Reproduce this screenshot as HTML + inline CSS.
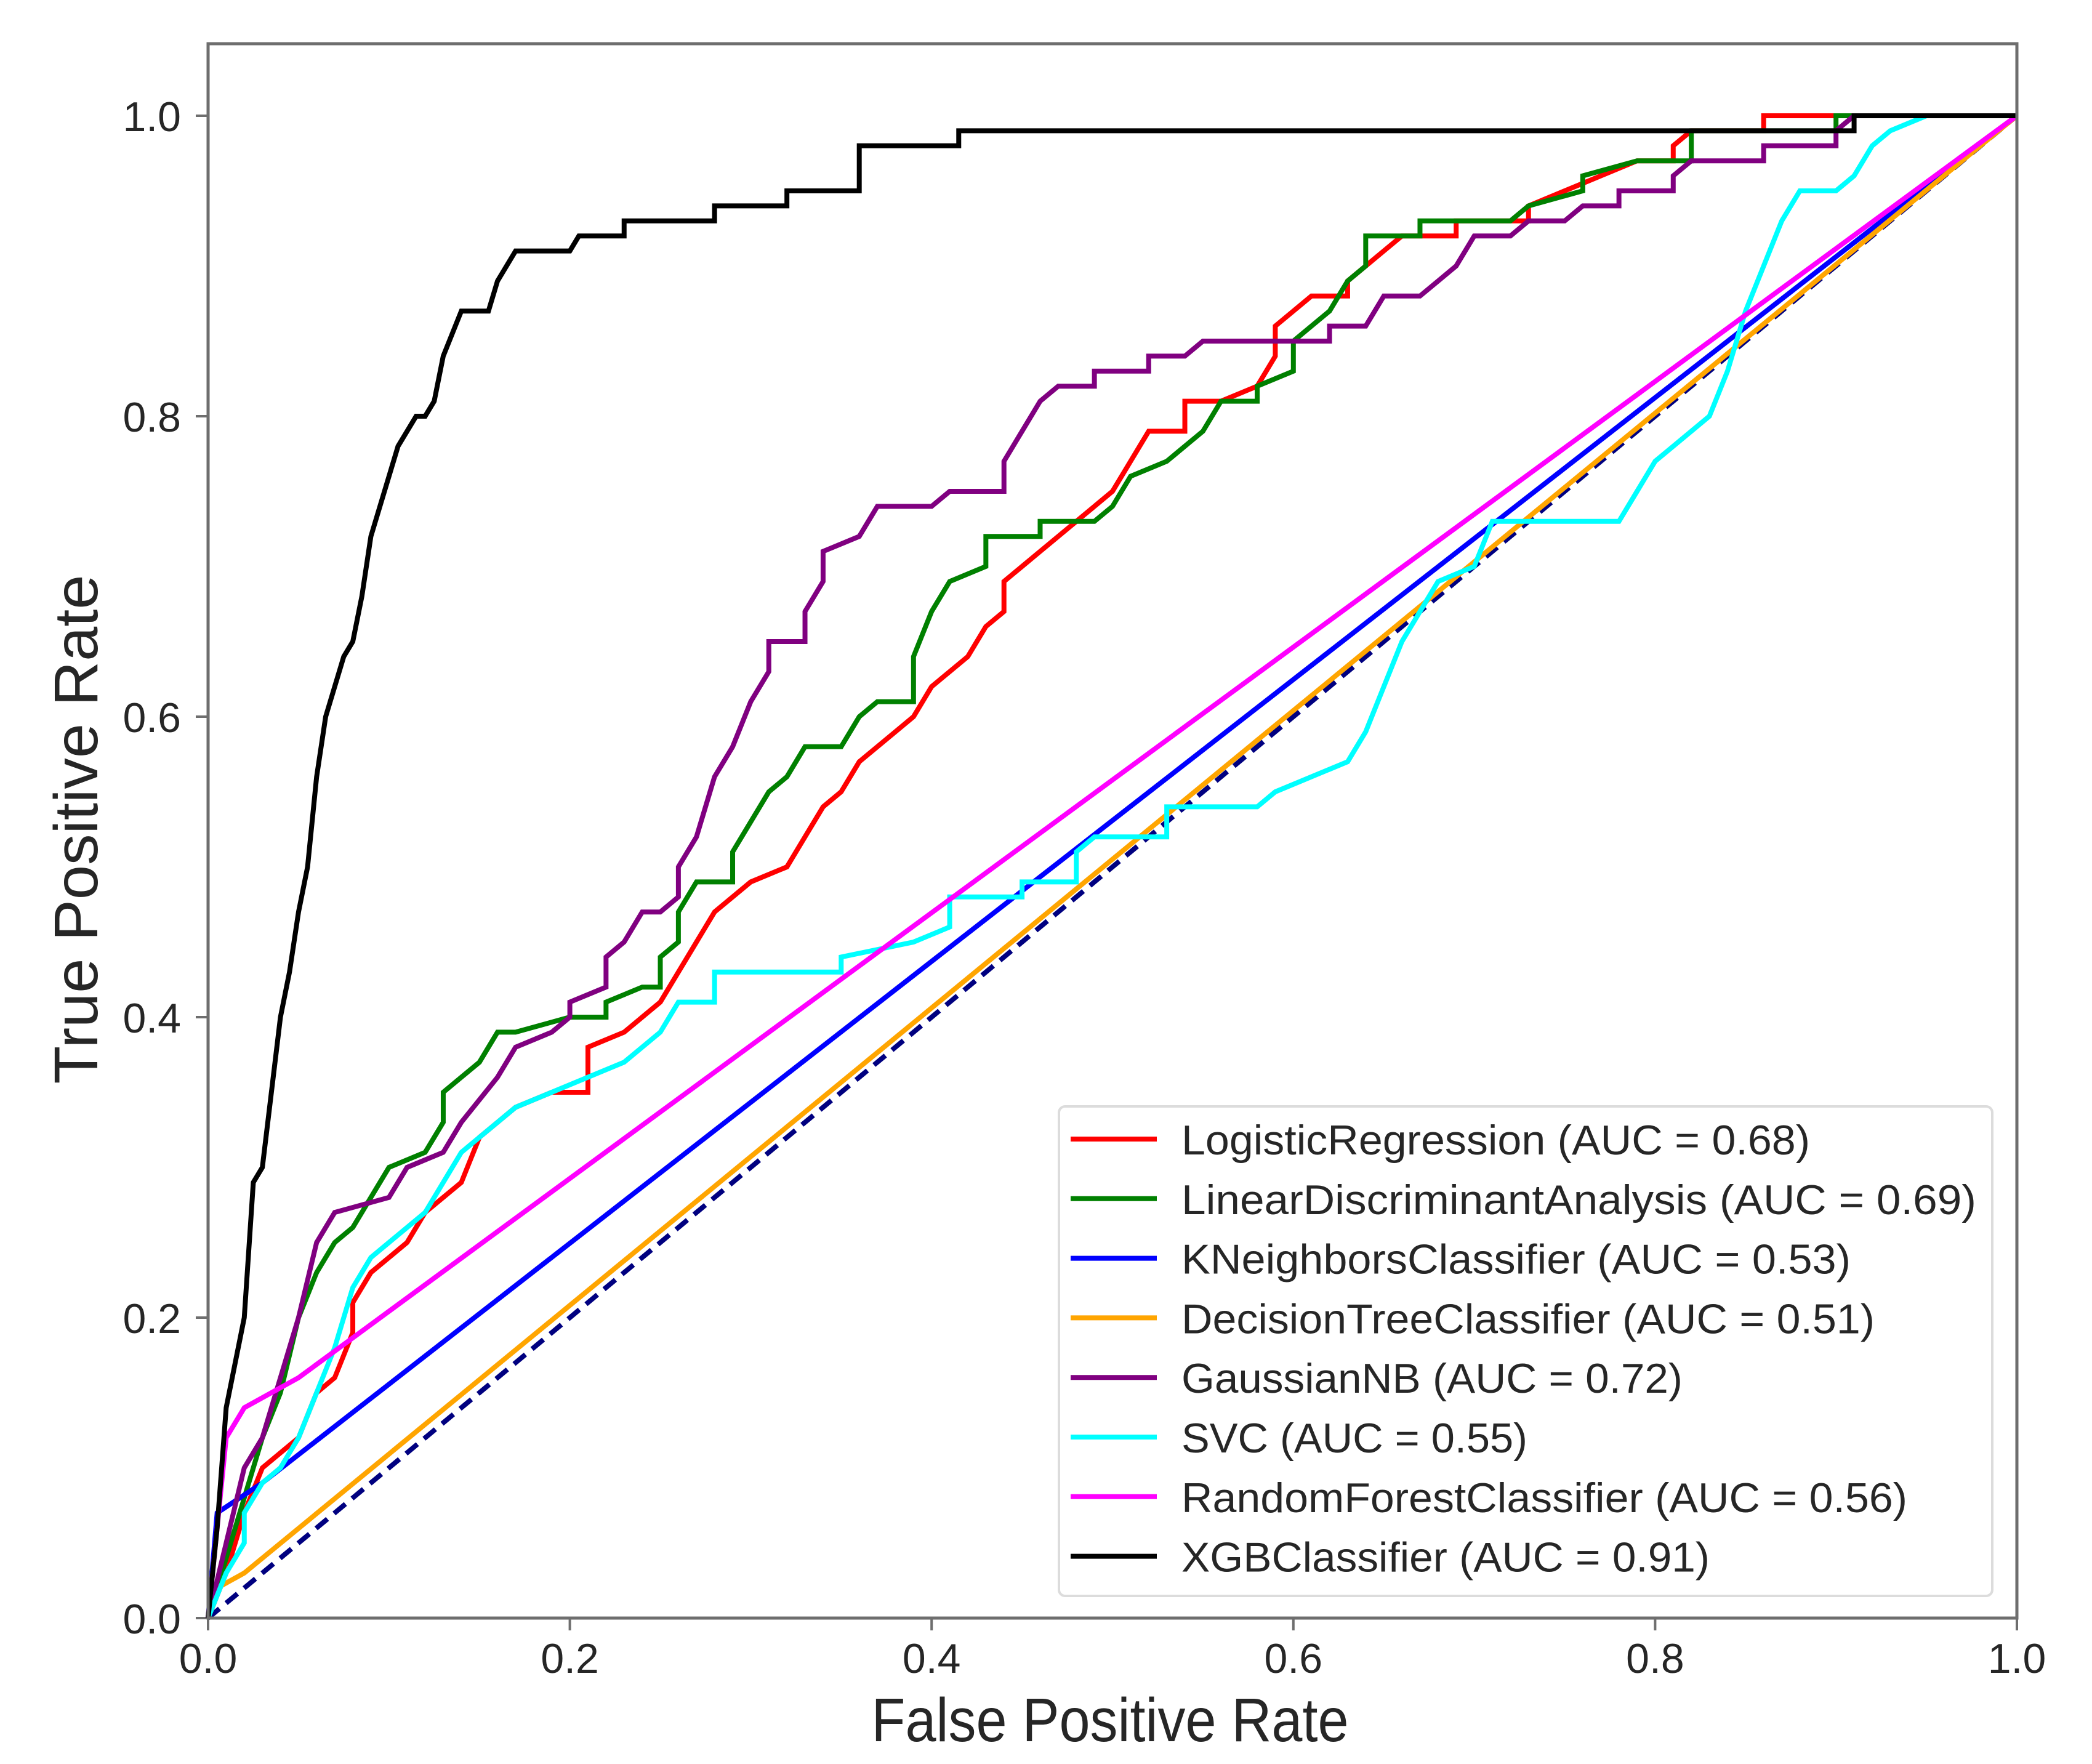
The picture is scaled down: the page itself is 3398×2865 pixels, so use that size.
<!DOCTYPE html>
<html><head><meta charset="utf-8"><style>
html,body{margin:0;padding:0;background:#fff;}
svg{display:block;}
text{font-family:"Liberation Sans","DejaVu Sans",sans-serif;fill:#262626;}
</style></head><body>
<svg id="chart" width="3398" height="2865" viewBox="0 0 3398 2865" xmlns="http://www.w3.org/2000/svg">
<g id="ticks"></g>
<g id="plot"></g>
<rect x="338" y="71" width="2938" height="2557" fill="none" stroke="#6e6e6e" stroke-width="5"/>
<g id="legend"></g>
<text x="1803" y="2828" font-size="100" text-anchor="middle" textLength="775" lengthAdjust="spacingAndGlyphs">False Positive Rate</text>
<text x="0" y="0" font-size="100" text-anchor="middle" textLength="827" lengthAdjust="spacingAndGlyphs" transform="translate(158,1347) rotate(-90)">True Positive Rate</text>
</svg>
<script>
const xTicks=[0,0.2,0.4,0.6,0.8,1.0];
const yTicks=[0,0.2,0.4,0.6,0.8,1.0];
const tickLabels=["0.0","0.2","0.4","0.6","0.8","1.0"];
const seriesNames=["LogisticRegression","LinearDiscriminantAnalysis","KNeighborsClassifier","DecisionTreeClassifier","GaussianNB","SVC","RandomForestClassifier","XGBClassifier"];
const seriesAUC=["0.68","0.69","0.53","0.51","0.72","0.55","0.56","0.91"];
const seriesColors=["#ff0000","#008000","#0000ff","#ffa500","#800080","#00ffff","#ff00ff","#000000"];
const lrFPR=[0,0.01,0.02,0.03,0.05,0.06,0.07,0.08,0.08,0.09,0.11,0.12,0.14,0.15,0.16,0.17,0.19,0.21,0.21,0.23,0.24,0.25,0.26,0.27,0.28,0.3,0.32,0.33,0.34,0.35,0.36,0.38,0.39,0.4,0.41,0.42,0.43,0.44,0.44,0.45,0.46,0.47,0.48,0.49,0.5,0.51,0.52,0.54,0.54,0.56,0.58,0.59,0.59,0.6,0.61,0.63,0.63,0.64,0.65,0.66,0.69,0.69,0.73,0.73,0.75,0.77,0.79,0.81,0.81,0.82,0.86,0.86,1];
const lrTPR=[0,0.03,0.07,0.1,0.12,0.15,0.16,0.19,0.21,0.23,0.25,0.27,0.29,0.32,0.33,0.34,0.35,0.35,0.38,0.39,0.4,0.41,0.43,0.45,0.47,0.49,0.5,0.52,0.54,0.55,0.57,0.59,0.6,0.62,0.63,0.64,0.66,0.67,0.69,0.7,0.71,0.72,0.73,0.74,0.75,0.77,0.79,0.79,0.81,0.81,0.82,0.84,0.86,0.87,0.88,0.88,0.89,0.9,0.91,0.92,0.92,0.93,0.93,0.94,0.95,0.96,0.97,0.97,0.98,0.99,0.99,1,1];
const ldaFPR=[0,0.01,0.02,0.03,0.04,0.05,0.06,0.07,0.08,0.09,0.1,0.12,0.13,0.13,0.14,0.15,0.16,0.17,0.2,0.22,0.22,0.24,0.25,0.25,0.26,0.26,0.27,0.29,0.29,0.3,0.31,0.32,0.33,0.35,0.36,0.37,0.39,0.39,0.39,0.4,0.41,0.43,0.43,0.46,0.46,0.49,0.5,0.51,0.53,0.55,0.56,0.58,0.58,0.6,0.6,0.61,0.62,0.63,0.64,0.64,0.67,0.67,0.72,0.73,0.76,0.76,0.79,0.82,0.82,0.9,0.9,1];
const ldaTPR=[0,0.04,0.08,0.12,0.15,0.2,0.23,0.25,0.26,0.28,0.3,0.31,0.33,0.35,0.36,0.37,0.39,0.39,0.4,0.4,0.41,0.42,0.42,0.44,0.45,0.47,0.49,0.49,0.51,0.53,0.55,0.56,0.58,0.58,0.6,0.61,0.61,0.62,0.64,0.67,0.69,0.7,0.72,0.72,0.73,0.73,0.74,0.76,0.77,0.79,0.81,0.81,0.82,0.83,0.85,0.86,0.87,0.89,0.9,0.92,0.92,0.93,0.93,0.94,0.95,0.96,0.97,0.97,0.99,0.99,1,1];
const knnFPR=[0,0.005,0.03,1];
const knnTPR=[0,0.07,0.09,1];
const dtFPR=[0,0.005,0.02,1];
const dtTPR=[0,0.02,0.03,1];
const gnbFPR=[0,0.01,0.02,0.03,0.05,0.06,0.07,0.1,0.11,0.13,0.14,0.16,0.17,0.19,0.2,0.2,0.22,0.22,0.23,0.24,0.25,0.26,0.26,0.27,0.28,0.29,0.3,0.31,0.31,0.33,0.33,0.34,0.34,0.36,0.37,0.4,0.41,0.44,0.44,0.45,0.46,0.47,0.49,0.49,0.52,0.52,0.54,0.55,0.62,0.62,0.64,0.65,0.67,0.68,0.69,0.7,0.72,0.73,0.75,0.76,0.78,0.78,0.81,0.81,0.82,0.86,0.86,0.9,0.9,0.91,1];
const gnbTPR=[0,0.05,0.1,0.12,0.2,0.25,0.27,0.28,0.3,0.31,0.33,0.36,0.38,0.39,0.4,0.41,0.42,0.44,0.45,0.47,0.47,0.48,0.5,0.52,0.56,0.58,0.61,0.63,0.65,0.65,0.67,0.69,0.71,0.72,0.74,0.74,0.75,0.75,0.77,0.79,0.81,0.82,0.82,0.83,0.83,0.84,0.84,0.85,0.85,0.86,0.86,0.88,0.88,0.89,0.9,0.92,0.92,0.93,0.93,0.94,0.94,0.95,0.95,0.96,0.97,0.97,0.98,0.98,0.99,1,1];
const svcFPR=[0,0.01,0.02,0.02,0.03,0.04,0.05,0.06,0.07,0.08,0.09,0.1,0.12,0.13,0.14,0.16,0.17,0.19,0.21,0.23,0.24,0.25,0.26,0.28,0.28,0.35,0.35,0.39,0.41,0.41,0.45,0.45,0.48,0.48,0.49,0.53,0.53,0.58,0.59,0.61,0.63,0.64,0.65,0.66,0.67,0.68,0.7,0.71,0.78,0.79,0.8,0.81,0.83,0.84,0.85,0.86,0.87,0.88,0.9,0.91,0.92,0.93,0.95,1];
const svcTPR=[0,0.03,0.05,0.07,0.09,0.1,0.12,0.15,0.18,0.22,0.24,0.25,0.27,0.29,0.31,0.33,0.34,0.35,0.36,0.37,0.38,0.39,0.41,0.41,0.43,0.43,0.44,0.45,0.46,0.48,0.48,0.49,0.49,0.51,0.52,0.52,0.54,0.54,0.55,0.56,0.57,0.59,0.62,0.65,0.67,0.69,0.7,0.73,0.73,0.75,0.77,0.78,0.8,0.83,0.87,0.9,0.93,0.95,0.95,0.96,0.98,0.99,1,1];
const rfFPR=[0,0.01,0.02,0.05,1];
const rfTPR=[0,0.12,0.14,0.16,1];
const xgbFPR=[0,0.005,0.01,0.02,0.025,0.03,0.035,0.04,0.045,0.05,0.055,0.06,0.065,0.07,0.075,0.08,0.085,0.09,0.095,0.1,0.105,0.11,0.115,0.12,0.125,0.13,0.14,0.155,0.16,0.17,0.2,0.205,0.23,0.23,0.28,0.28,0.32,0.32,0.36,0.36,0.415,0.415,0.91,0.91,1];
const xgbTPR=[0,0.06,0.14,0.2,0.29,0.3,0.35,0.4,0.43,0.47,0.5,0.56,0.6,0.62,0.64,0.65,0.68,0.72,0.74,0.76,0.78,0.79,0.8,0.8,0.81,0.84,0.87,0.87,0.89,0.91,0.91,0.92,0.92,0.93,0.93,0.94,0.94,0.95,0.95,0.98,0.98,0.99,0.99,1,1];
const diagFPR=[0,1];
const diagTPR=[0,1];

const NS="http://www.w3.org/2000/svg";
const X0=338,X1=3276,Y0=2628,Y1=188;
function sx(v){return X0+v*(X1-X0);}
function sy(v){return Y0-v*(Y0-Y1);}
const ticksG=document.getElementById('ticks');
xTicks.forEach((v,i)=>{
  const l=document.createElementNS(NS,'line');
  
  
  l.setAttribute('x1',sx(v));l.setAttribute('x2',sx(v));l.setAttribute('y1',Y0);l.setAttribute('y2',Y0+20);
  l.setAttribute('stroke','#6e6e6e');l.setAttribute('stroke-width','4');
  ticksG.appendChild(l);
  const t=document.createElementNS(NS,'text');
  
  
  t.setAttribute('x',sx(v));t.setAttribute('y',2717);t.setAttribute('font-size','68');t.setAttribute('text-anchor','middle');
  t.textContent=tickLabels[i];
  ticksG.appendChild(t);
});
yTicks.forEach((v,i)=>{
  const l=document.createElementNS(NS,'line');
  
  
  l.setAttribute('x1',X0-20);l.setAttribute('x2',X0);l.setAttribute('y1',sy(v));l.setAttribute('y2',sy(v));
  l.setAttribute('stroke','#6e6e6e');l.setAttribute('stroke-width','4');
  ticksG.appendChild(l);
  const t=document.createElementNS(NS,'text');
  
  
  t.setAttribute('x',294);t.setAttribute('y',sy(v)+25);t.setAttribute('font-size','68');t.setAttribute('text-anchor','end');
  t.textContent=tickLabels[i];
  ticksG.appendChild(t);
});
const plotG=document.getElementById('plot');
function drawLine(xs,ys,color,name,dash){
  const p=document.createElementNS(NS,'polyline');
  
  
  p.setAttribute('points',xs.map((x,i)=>sx(x)+','+sy(ys[i])).join(' '));
  p.setAttribute('fill','none');p.setAttribute('stroke',color);p.setAttribute('stroke-width','8');
  p.setAttribute('stroke-linejoin','miter');
  if(dash)p.setAttribute('stroke-dasharray',dash);
  plotG.appendChild(p);
}
drawLine(diagFPR,diagTPR,'#000080','chance-diagonal','24,14');
drawLine(lrFPR,lrTPR,seriesColors[0],'roc-logistic-regression');
drawLine(ldaFPR,ldaTPR,seriesColors[1],'roc-lda');
drawLine(knnFPR,knnTPR,seriesColors[2],'roc-kneighbors');
drawLine(dtFPR,dtTPR,seriesColors[3],'roc-decision-tree');
drawLine(gnbFPR,gnbTPR,seriesColors[4],'roc-gaussian-nb');
drawLine(svcFPR,svcTPR,seriesColors[5],'roc-svc');
drawLine(rfFPR,rfTPR,seriesColors[6],'roc-random-forest');
drawLine(xgbFPR,xgbTPR,seriesColors[7],'roc-xgb');

const legG=document.getElementById('legend');
const box=document.createElementNS(NS,'rect');


box.setAttribute('x',1720);box.setAttribute('y',1797);box.setAttribute('width',1516);box.setAttribute('height',795);
box.setAttribute('rx',10);box.setAttribute('fill','#fff');box.setAttribute('fill-opacity','0.85');box.setAttribute('stroke','#dcdcdc');box.setAttribute('stroke-width','4');
legG.appendChild(box);
const textWidths=[1021,1291,1087,1126,814,562,1179,858];
seriesNames.forEach((n,i)=>{
  const cy=1850+i*96.8;
  const l=document.createElementNS(NS,'line');
  
  
  l.setAttribute('x1',1739);l.setAttribute('x2',1879);l.setAttribute('y1',cy);l.setAttribute('y2',cy);
  l.setAttribute('stroke',seriesColors[i]);l.setAttribute('stroke-width','8');
  legG.appendChild(l);
  const t=document.createElementNS(NS,'text');
  
  
  t.setAttribute('x',1919);t.setAttribute('y',cy+25);t.setAttribute('font-size','68');
  t.setAttribute('textLength',textWidths[i]);t.setAttribute('lengthAdjust','spacingAndGlyphs');
  t.textContent=n+' (AUC = '+seriesAUC[i]+')';
  legG.appendChild(t);
});
</script>
</body></html>
